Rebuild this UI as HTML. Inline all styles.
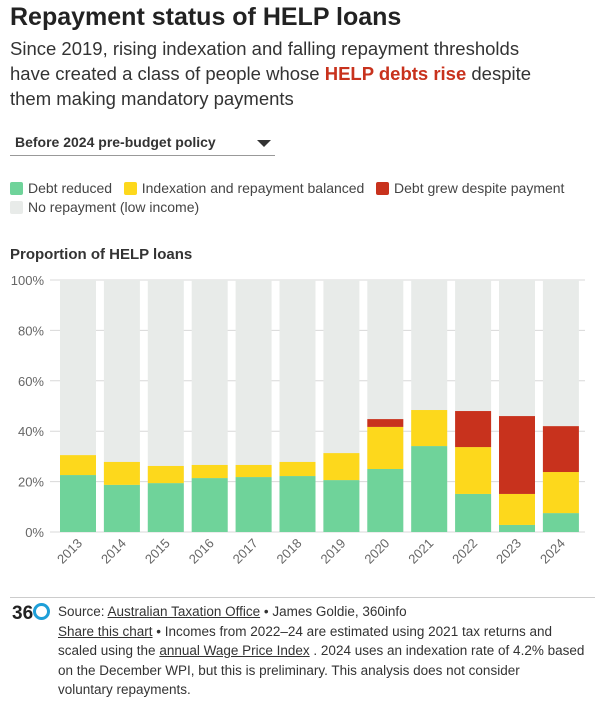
<!DOCTYPE html>
<html><head><meta charset="utf-8"><style>
body{margin:0;width:613px;height:701px;background:#fff;font-family:"Liberation Sans",sans-serif;color:#333;position:relative;overflow:hidden}
.abs{position:absolute}
h1{position:absolute;left:10px;top:3px;margin:0;font-size:25px;font-weight:bold;color:#222}
.sub{left:10px;top:36px;font-size:18.5px;line-height:25px;color:#333;width:550px}
.sub b{color:#c8321d}
.leg{font-size:14px;color:#444}
.sw{display:inline-block;width:13px;height:13px;border-radius:2px;vertical-align:-2px;margin-right:5px}
.foot{left:58px;top:602px;font-size:13.5px;line-height:19.5px;color:#333;width:550px;white-space:nowrap}
.foot u{color:#333}
</style></head><body>
<h1>Repayment status of HELP loans</h1>
<div class="abs sub">Since 2019, rising indexation and falling repayment thresholds have created a class of people whose <b>HELP debts rise</b> despite them making mandatory payments</div>
<div class="abs" style="left:10px;top:130px;width:265px;height:26px;border-bottom:1px solid #999;font-size:14px;font-weight:bold;color:#333;line-height:24px;padding-left:5px;box-sizing:border-box">Before 2024 pre-budget policy<span style="position:absolute;right:4px;top:10px;width:0;height:0;border-left:7px solid transparent;border-right:7px solid transparent;border-top:7px solid #333"></span></div>
<div class="abs leg" style="left:10px;top:180px">
<span><span class="sw" style="background:#6fd39a"></span>Debt reduced</span>&nbsp;&nbsp;
<span><span class="sw" style="background:#fdd81c"></span>Indexation and repayment balanced</span>&nbsp;&nbsp;
<span><span class="sw" style="background:#c8321d"></span>Debt grew despite payment</span><br>
<div style="margin-top:3px"><span class="sw" style="background:#e8ebe9"></span>No repayment (low income)</div>
</div>
<div class="abs" style="left:10px;top:246px;font-size:15px;font-weight:bold;color:#333">Proportion of HELP loans</div>
<svg class="abs" style="left:0;top:260px" width="613" height="340" id="chart"></svg>
<div class="abs" style="left:10px;top:597px;width:585px;border-top:1px solid #ccc"></div>
<div class="abs" style="left:12px;top:603px;font-size:19px;font-weight:bold;color:#222">36<span style="display:inline-block;width:11px;height:11px;border:3px solid #1e9fd8;border-radius:50%;vertical-align:-1px"></span></div>
<div class="abs foot">Source: <u>Australian Taxation Office</u> • James Goldie, 360info<br><u>Share this chart</u> • Incomes from 2022–24 are estimated using 2021 tax returns and<br>scaled using the <u>annual Wage Price Index</u> . 2024 uses an indexation rate of 4.2% based<br>on the December WPI, but this is preliminary. This analysis does not consider<br>voluntary repayments.</div>
<script>
const years=["2013","2014","2015","2016","2017","2018","2019","2020","2021","2022","2023","2024"];
const reduced=[22.6,18.7,19.4,21.4,21.8,22.2,20.6,25,34.1,15.1,2.8,7.5];
const balanced=[7.9,9.1,6.8,5.2,4.8,5.6,10.7,16.7,14.3,18.6,12.3,16.3];
const grew=[0,0,0,0,0,0,0,3.1,0,14.3,30.9,18.2];
const yTicks=[0,20,40,60,80,100];
const svg=document.getElementById('chart');const NS="http://www.w3.org/2000/svg";
const y0=272,y1=20,xL=50,xR=585,step=43.9,bw=36,bx0=60;
const y=v=>y0-(y0-y1)*v/100;
const x=i=>bx0+i*step;
function mk(t,a){const e=document.createElementNS(NS,t);for(const k in a)e.setAttribute(k,a[k]);svg.appendChild(e);return e;}
yTicks.forEach(t=>{const l=mk('line',{x1:xL,x2:xR,y1:y(t),y2:y(t),stroke:'#d8d8d8','stroke-width':1});

const tx=mk('text',{x:44,y:y(t)+5,'text-anchor':'end','font-size':13,fill:'#666','font-family':'Liberation Sans'});tx.textContent=t+'%';
});
years.forEach((yr,i)=>{
const bg=mk('rect',{x:x(i),y:y(100),width:bw,height:y(0)-y(100),fill:'#e8ebe9'});

let c=0;[[reduced,'#6fd39a','debt-reduced'],[balanced,'#fdd81c','balanced'],[grew,'#c8321d','debt-grew']].forEach(([arr,col,n])=>{
const v=arr[i];if(v>0){const r=mk('rect',{x:x(i),y:y(c+v),width:bw,height:y(c)-y(c+v),fill:col});
}c+=v;});
const tx=mk('text',{x:x(i)+bw/2+5,y:y0+12,'text-anchor':'end','font-size':13,fill:'#666','font-family':'Liberation Sans',transform:`rotate(-45 ${x(i)+bw/2+5} ${y0+12})`});tx.textContent=yr;
});
</script>
</body></html>
